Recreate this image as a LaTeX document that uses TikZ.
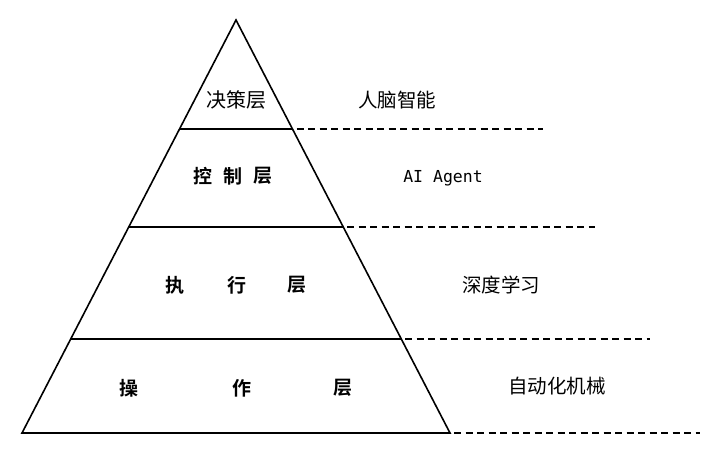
\documentclass[tikz,border=0pt]{standalone}
\usepackage{fontspec}
\newfontfamily\cjk{Noto Sans CJK SC}
\newfontfamily\cjkbold{Noto Sans CJK SC Bold}
\newfontfamily\monof{DejaVu Sans Mono}
\begin{document}
\begin{tikzpicture}[x=1pt,y=-1pt,
  edge/.style={line width=1.6pt,black},
  dashline/.style={line width=1.5pt,black,dash pattern=on 7pt off 4.5pt},
  layer/.style={font=\cjkbold\fontsize{19}{19}\selectfont,inner sep=0pt,anchor=center},
  toplayer/.style={font=\cjk\fontsize{20}{20}\selectfont,inner sep=0pt,anchor=center},
  desc/.style={font=\cjk\fontsize{19.5}{19.5}\selectfont,inner sep=0pt,anchor=center},
  monodesc/.style={font=\monof\fontsize{16.5}{16.5}\selectfont,inner sep=0pt,anchor=center}]
\useasboundingbox (0,0) rectangle (720,450);
\fill[white] (0,0) rectangle (720,450);
% pyramid corners
\coordinate (apex) at (236,20);
\coordinate (bl) at (22,433);
\coordinate (br) at (450,433);
\coordinate (l1a) at (179.5,129);
\coordinate (l1b) at (292.5,129);
\coordinate (l2a) at (129,227);
\coordinate (l2b) at (343,227);
\coordinate (l3a) at (71,339);
\coordinate (l3b) at (401,339);
\coordinate (d1) at (543,129);
\coordinate (d2) at (595,227);
\coordinate (d3) at (650,339);
\coordinate (d4) at (700,433);
\draw[edge,line join=miter] (bl) -- (apex) -- (br) -- cycle;
\draw[edge] (l1a) -- (l1b);
\draw[edge] (l2a) -- (l2b);
\draw[edge] (l3a) -- (l3b);
\draw[dashline] (l1b) ++(4,0) -- (d1);
\draw[dashline] (l2b) ++(4,0) -- (d2);
\draw[dashline] (l3b) ++(4,0) -- (d3);
\draw[dashline] (br) ++(4,0) -- (d4);
% layer names
\node[toplayer] (t1) at (236,100) {决策层};
\node[layer] (t2a) at (203,176) {控};
\node[layer] (t2b) at (233,176) {制};
\node[layer] (t2c) at (263,176) {层};
\node[layer] (t3a) at (175,285) {执};
\node[layer] (t3b) at (237,285) {行};
\node[layer] (t3c) at (297,285) {层};
\node[layer] (t4a) at (129,388) {操};
\node[layer] (t4b) at (242,388) {作};
\node[layer] (t4c) at (343,388) {层};
% descriptions
\node[desc] (r1) at (397,100) {人脑智能};
\node[monodesc] (r2) at (443,178) {AI Agent};
\node[desc] (r3) at (501,285) {深度学习};
\node[desc] (r4) at (557,386) {自动化机械};
\end{tikzpicture}
\end{document}
